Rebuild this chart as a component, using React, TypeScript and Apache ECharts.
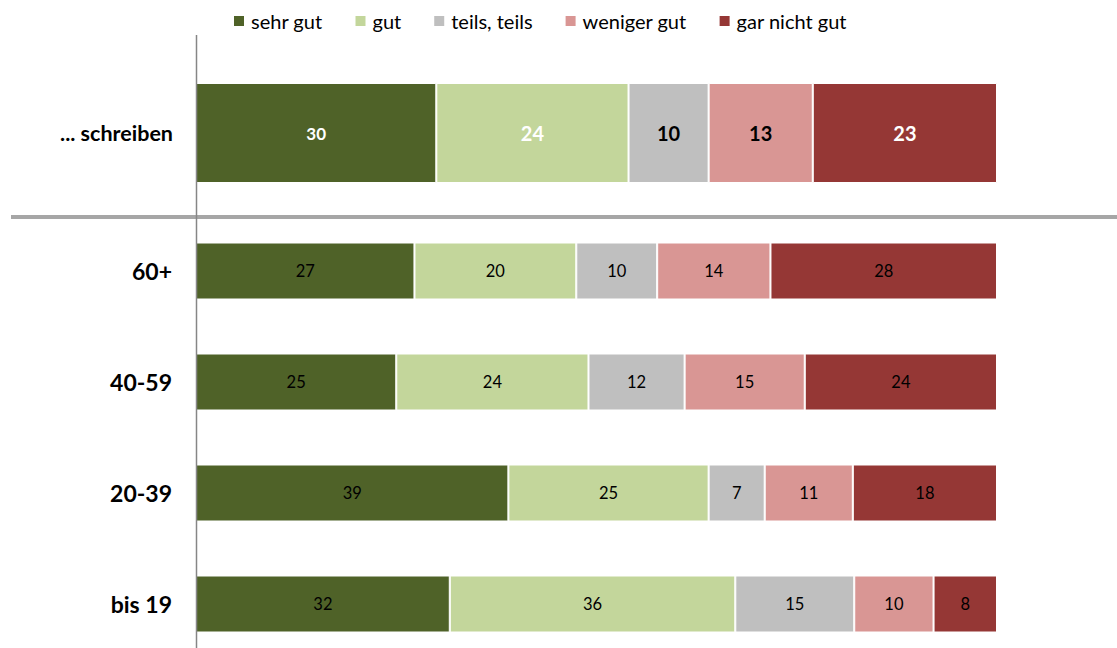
import React, { useEffect, useRef } from "react";
import * as echarts from "echarts";

const seriesNames = ["sehr gut", "gut", "teils, teils", "weniger gut", "gar nicht gut"];
const colors = ["#4f6228", "#c3d69b", "#bfbfbf", "#d99694", "#953735"];

const topCategory = ["... schreiben"];
const topValues = [30, 24, 10, 13, 23];

const ageCategories = ["60+", "40-59", "20-39", "bis 19"];
const sehrGut = [27, 25, 39, 32];
const gut = [20, 24, 25, 36];
const teils = [10, 12, 7, 15];
const weniger = [14, 15, 11, 10];
const garNicht = [28, 24, 18, 8];

const topLabelColors = ["#ffffff", "#ffffff", "#000000", "#000000", "#ffffff"];
const topLabelSizes = [17, 20, 20, 20, 20];

const FONT = "Lato, 'Noto Sans', sans-serif";

export default function App() {
  const ref = useRef<HTMLDivElement>(null);
  useEffect(() => {
    if (!ref.current) return;
    const chart = echarts.init(ref.current, undefined, { renderer: "svg" });
    const ageSeries = [sehrGut, gut, teils, weniger, garNicht];
    const rowSums = ageCategories.map((_, i) => ageSeries.reduce((s, arr) => s + arr[i], 0));
    const topSum = topValues.reduce((a, b) => a + b, 0);

    const series: any[] = [];
    seriesNames.forEach((name, k) => {
      series.push({
        name,
        type: "bar",
        stack: "top",
        xAxisIndex: 0,
        yAxisIndex: 0,
        barWidth: 100,
        itemStyle: { color: colors[k], borderColor: "#ffffff", borderWidth: 1 },
        label: {
          show: true,
          position: "inside",
          color: topLabelColors[k],
          fontSize: topLabelSizes[k],
          fontWeight: "bold",
          fontFamily: FONT,
          formatter: (p: any) => String(p.data.raw),
        },
        data: [{ value: (topValues[k] / topSum) * 100, raw: topValues[k] }],
      });
    });
    seriesNames.forEach((name, k) => {
      series.push({
        name,
        type: "bar",
        stack: "age",
        xAxisIndex: 1,
        yAxisIndex: 1,
        barWidth: 57,
        itemStyle: { color: colors[k], borderColor: "#ffffff", borderWidth: 1 },
        label: {
          show: true,
          position: "inside",
          color: "#000000",
          fontSize: 16.5,
          fontFamily: FONT,
          formatter: (p: any) => String(p.data.raw),
        },
        data: ageSeries[k].map((v, i) => ({ value: (v / rowSums[i]) * 100, raw: v })),
      });
    });

    chart.setOption({
      animation: false,
      textStyle: { fontFamily: FONT },
      legend: {
        data: seriesNames,
        top: 6,
        left: 227,
        icon: "rect",
        itemWidth: 12,
        itemHeight: 12,
        itemGap: 31,
        textStyle: { fontSize: 20, color: "#000000", fontFamily: FONT, padding: [0, 0, 0, 1] },
      },
      grid: [
        { left: 196, width: 801, top: 83, height: 100, outerBoundsMode: "none" },
        { left: 196, width: 801, top: 215.5, height: 444, outerBoundsMode: "none" },
      ],
      xAxis: [
        { type: "value", gridIndex: 0, min: 0, max: 100, show: false },
        { type: "value", gridIndex: 1, min: 0, max: 100, show: false },
      ],
      yAxis: [
        {
          type: "category",
          gridIndex: 0,
          data: topCategory,
          axisLine: { show: false },
          axisTick: { show: false },
          axisLabel: { fontSize: 21.5, fontWeight: "bold", color: "#000000", margin: 23, fontFamily: FONT },
        },
        {
          type: "category",
          gridIndex: 1,
          inverse: true,
          data: ageCategories,
          axisLine: { show: false },
          axisTick: { show: false },
          axisLabel: { fontSize: 23, fontWeight: "bold", color: "#000000", margin: 24, fontFamily: FONT },
        },
      ],
      graphic: [
        {
          type: "line",
          shape: { x1: 11, y1: 217, x2: 1117, y2: 217 },
          style: { stroke: "#a6a6a6", lineWidth: 4 },
          z: 10,
        },
        {
          type: "line",
          shape: { x1: 196.5, y1: 35, x2: 196.5, y2: 648 },
          style: { stroke: "#868686", lineWidth: 1.5 },
          z: 11,
        },
      ],
      series,
    });
    return () => chart.dispose();
  }, []);
  return (
    <div
      ref={ref}
      style={{ position: "absolute", left: 0, top: 0, width: 1117, height: 648, background: "#ffffff" }}
    />
  );
}
